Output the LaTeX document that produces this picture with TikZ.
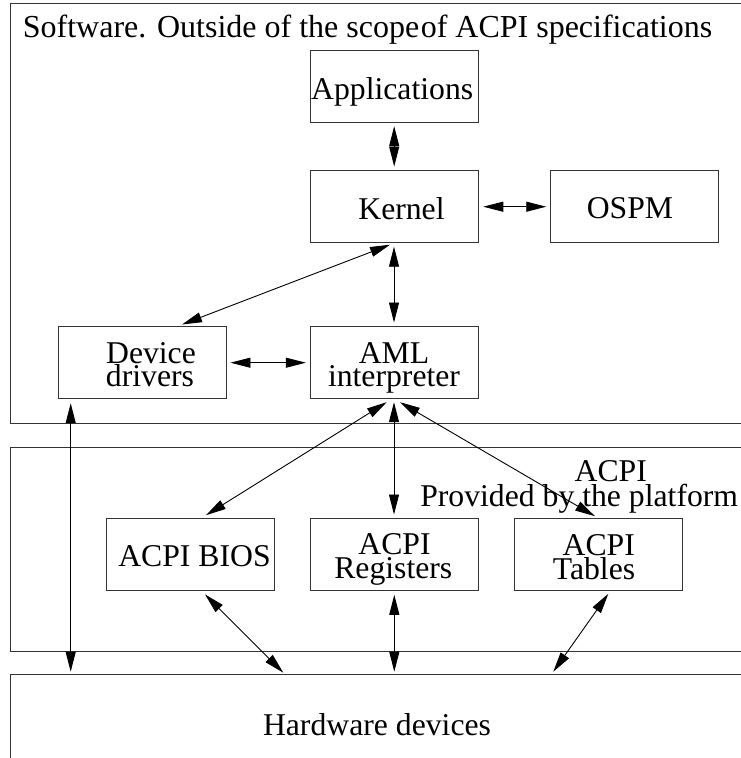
\documentclass[tikz,border=0pt]{standalone}
\usepackage{fontspec}
\setmainfont{Liberation Serif}
\usetikzlibrary{arrows.meta}
\tikzset{
  frame/.style={draw=black!80, line width=1pt, inner sep=0pt, anchor=north west},
  box/.style={draw=black!80, line width=1pt, minimum width=168.3pt, minimum height=72pt, inner sep=0pt},
  txt/.style={inner sep=0pt, font=\fontsize{31.7}{31.7}\selectfont, anchor=base, text height=20pt, text depth=3pt},
  con/.style={line width=0.9pt, {Triangle[length=20pt,width=10pt]}-{Triangle[length=20pt,width=10pt]}},
}
\begin{document}
\begin{tikzpicture}[x=1pt,y=-1pt]
\useasboundingbox (0,0) rectangle (741,758);
\begin{scope}
\clip (0,0) rectangle (741,758);
% regions
\node[frame, minimum width=780pt, minimum height=420pt] (sw) at (10,2.7) {};
\node[frame, minimum width=780pt, minimum height=204pt] (pf) at (10,446.7) {};
\node[frame, minimum width=780pt, minimum height=130pt] (hw) at (10,674) {};
% boxes
\node[box] (app) at (394.2,86.2) {};
\node[box] (kernel) at (394.2,206.5) {};
\node[box] (ospm) at (634.2,206.5) {};
\node[box] (dd) at (142.5,362.7) {};
\node[box] (aml) at (394.5,362.7) {};
\node[box] (bios) at (190.2,554.4) {};
\node[box] (reg) at (394.2,554.5) {};
\node[box] (tab) at (598.2,554.5) {};
% texts
\node[txt, anchor=base west, font=\fontsize{32}{32}\selectfont] (title) at (22.7,37) {Software. Outside of the scope\kern1.5pt of ACPI specifications};
\node[txt] (tapp) at (392.2,99.3) {Applications};
\node[txt] (tker) at (401.5,219) {Kernel};
\node[txt] (tospm) at (630,218.3) {OSPM};
\node[txt] (tdd1) at (151,363.3) {Device};
\node[txt] (tdd2) at (150,386.7) {drivers};
\node[txt] (taml1) at (394,363.3) {AML};
\node[txt] (taml2) at (394,386.7) {interpreter};
\node[txt] (tbios) at (194.5,566.7) {ACPI BIOS};
\node[txt] (treg1) at (394.5,554) {ACPI};
\node[txt] (treg2) at (393.3,578.3) {Registers};
\node[txt] (ttab1) at (598.8,555) {ACPI};
\node[txt] (ttab2) at (594,579) {Tables};
\node[txt] (tpf1) at (610.8,481.7) {ACPI};
\node[txt, anchor=base east] (tpf2) at (738.3,506) {Provided by the platform};
\node[txt] (thw) at (377,735) {Hardware devices};
% hardware attachment points
\coordinate (hw1) at (70.7,671.7);
\coordinate (hw2) at (283.3,672.7);
\coordinate (hw3) at (394.3,671.7);
\coordinate (hw4) at (553.3,671.7);
% connectors
\draw[con] ([shift={(0,3.5)}]app.south) -- ([shift={(0,-3.5)}]kernel.north);
\draw[con] ([shift={(4.4,0.2)}]kernel.east) -- ([shift={(-3.3,0.2)}]ospm.west);
\draw[con] ([shift={(-4.2,1.7)}]kernel.south) -- ([shift={(39.5,-1.7)}]dd.north);
\draw[con] ([shift={(-0.2,3.7)}]kernel.south) -- ([shift={(-0.5,-3.7)}]aml.north);
\draw[con] ([shift={(3.3,0)}]dd.east) -- ([shift={(-4,0)}]aml.west);
\draw[con] ([shift={(-7.8,3)}]aml.south) -- ([shift={(15.8,-2.7)}]bios.north);
\draw[con] ([shift={(-0.5,3)}]aml.south) -- ([shift={(-0.2,-3.5)}]reg.north);
\draw[con] ([shift={(5.5,3)}]aml.south) -- ([shift={(-3.2,-1.8)}]tab.north);
\draw[con] ([shift={(-71.8,4)}]dd.south) -- (hw1);
\draw[con] ([shift={(14.8,3.5)}]bios.south) -- (hw2);
\draw[con] ([shift={(0.1,3.8)}]reg.south) -- (hw3);
\draw[con] ([shift={(10.1,2.8)}]tab.south) -- (hw4);
\end{scope}
\end{tikzpicture}
\end{document}
